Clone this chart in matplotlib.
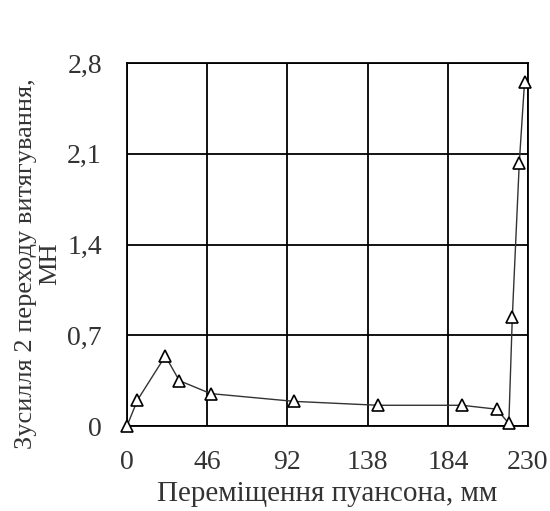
import matplotlib
matplotlib.use("Agg")
import matplotlib.pyplot as plt

# Punch displacement (mm) and drawing force of the 2nd transition (MN)
displacement = [0, 6, 22, 30, 48, 96, 144, 192, 212, 219, 221, 225, 228]
force = [0.0, 0.20, 0.54, 0.35, 0.25, 0.19, 0.16, 0.16, 0.13, 0.02, 0.84, 2.03, 2.65]

x_ticks = [0, 46, 92, 138, 184, 230]
y_ticks = [0, 0.7, 1.4, 2.1, 2.8]
y_tick_labels = ["0", "0,7", "1,4", "2,1", "2,8"]

plt.rcParams["font.family"] = ["Liberation Serif", "DejaVu Serif"]

fig = plt.figure(figsize=(5.5, 5.11), dpi=100)
ax = fig.add_axes([0.2309, 0.1663, 0.7291, 0.7104])

ax.plot(displacement, force, color="#333333", lw=1.0,
        marker="^", markersize=9, markerfacecolor="white",
        markeredgecolor="black", markeredgewidth=1.2, clip_on=False, zorder=3)

ax.set_xlim(0, 230)
ax.set_ylim(0, 2.8)
ax.set_xticks(x_ticks)
ax.set_xticklabels([str(v) for v in x_ticks])
ax.set_yticks(y_ticks)
ax.set_yticklabels(y_tick_labels)
ax.tick_params(length=0, labelsize=20, colors="#333333")
ax.tick_params(axis="x", pad=17.5)
ax.tick_params(axis="y", pad=18)

ax.grid(True, color="black", lw=1.3)
ax.set_axisbelow(True)
for s in ax.spines.values():
    s.set_color("black")
    s.set_linewidth(1.3)

ax.set_xlabel("Переміщення пуансона, мм", fontsize=21, color="#333333", labelpad=4)
ax.set_ylabel("Зусилля 2 переходу витягування,\nМН", fontsize=19,
              color="#333333", linespacing=1.1)
ax.yaxis.set_label_coords(-0.165, 0.448)

fig.savefig("out.png", dpi=100, facecolor="white")
